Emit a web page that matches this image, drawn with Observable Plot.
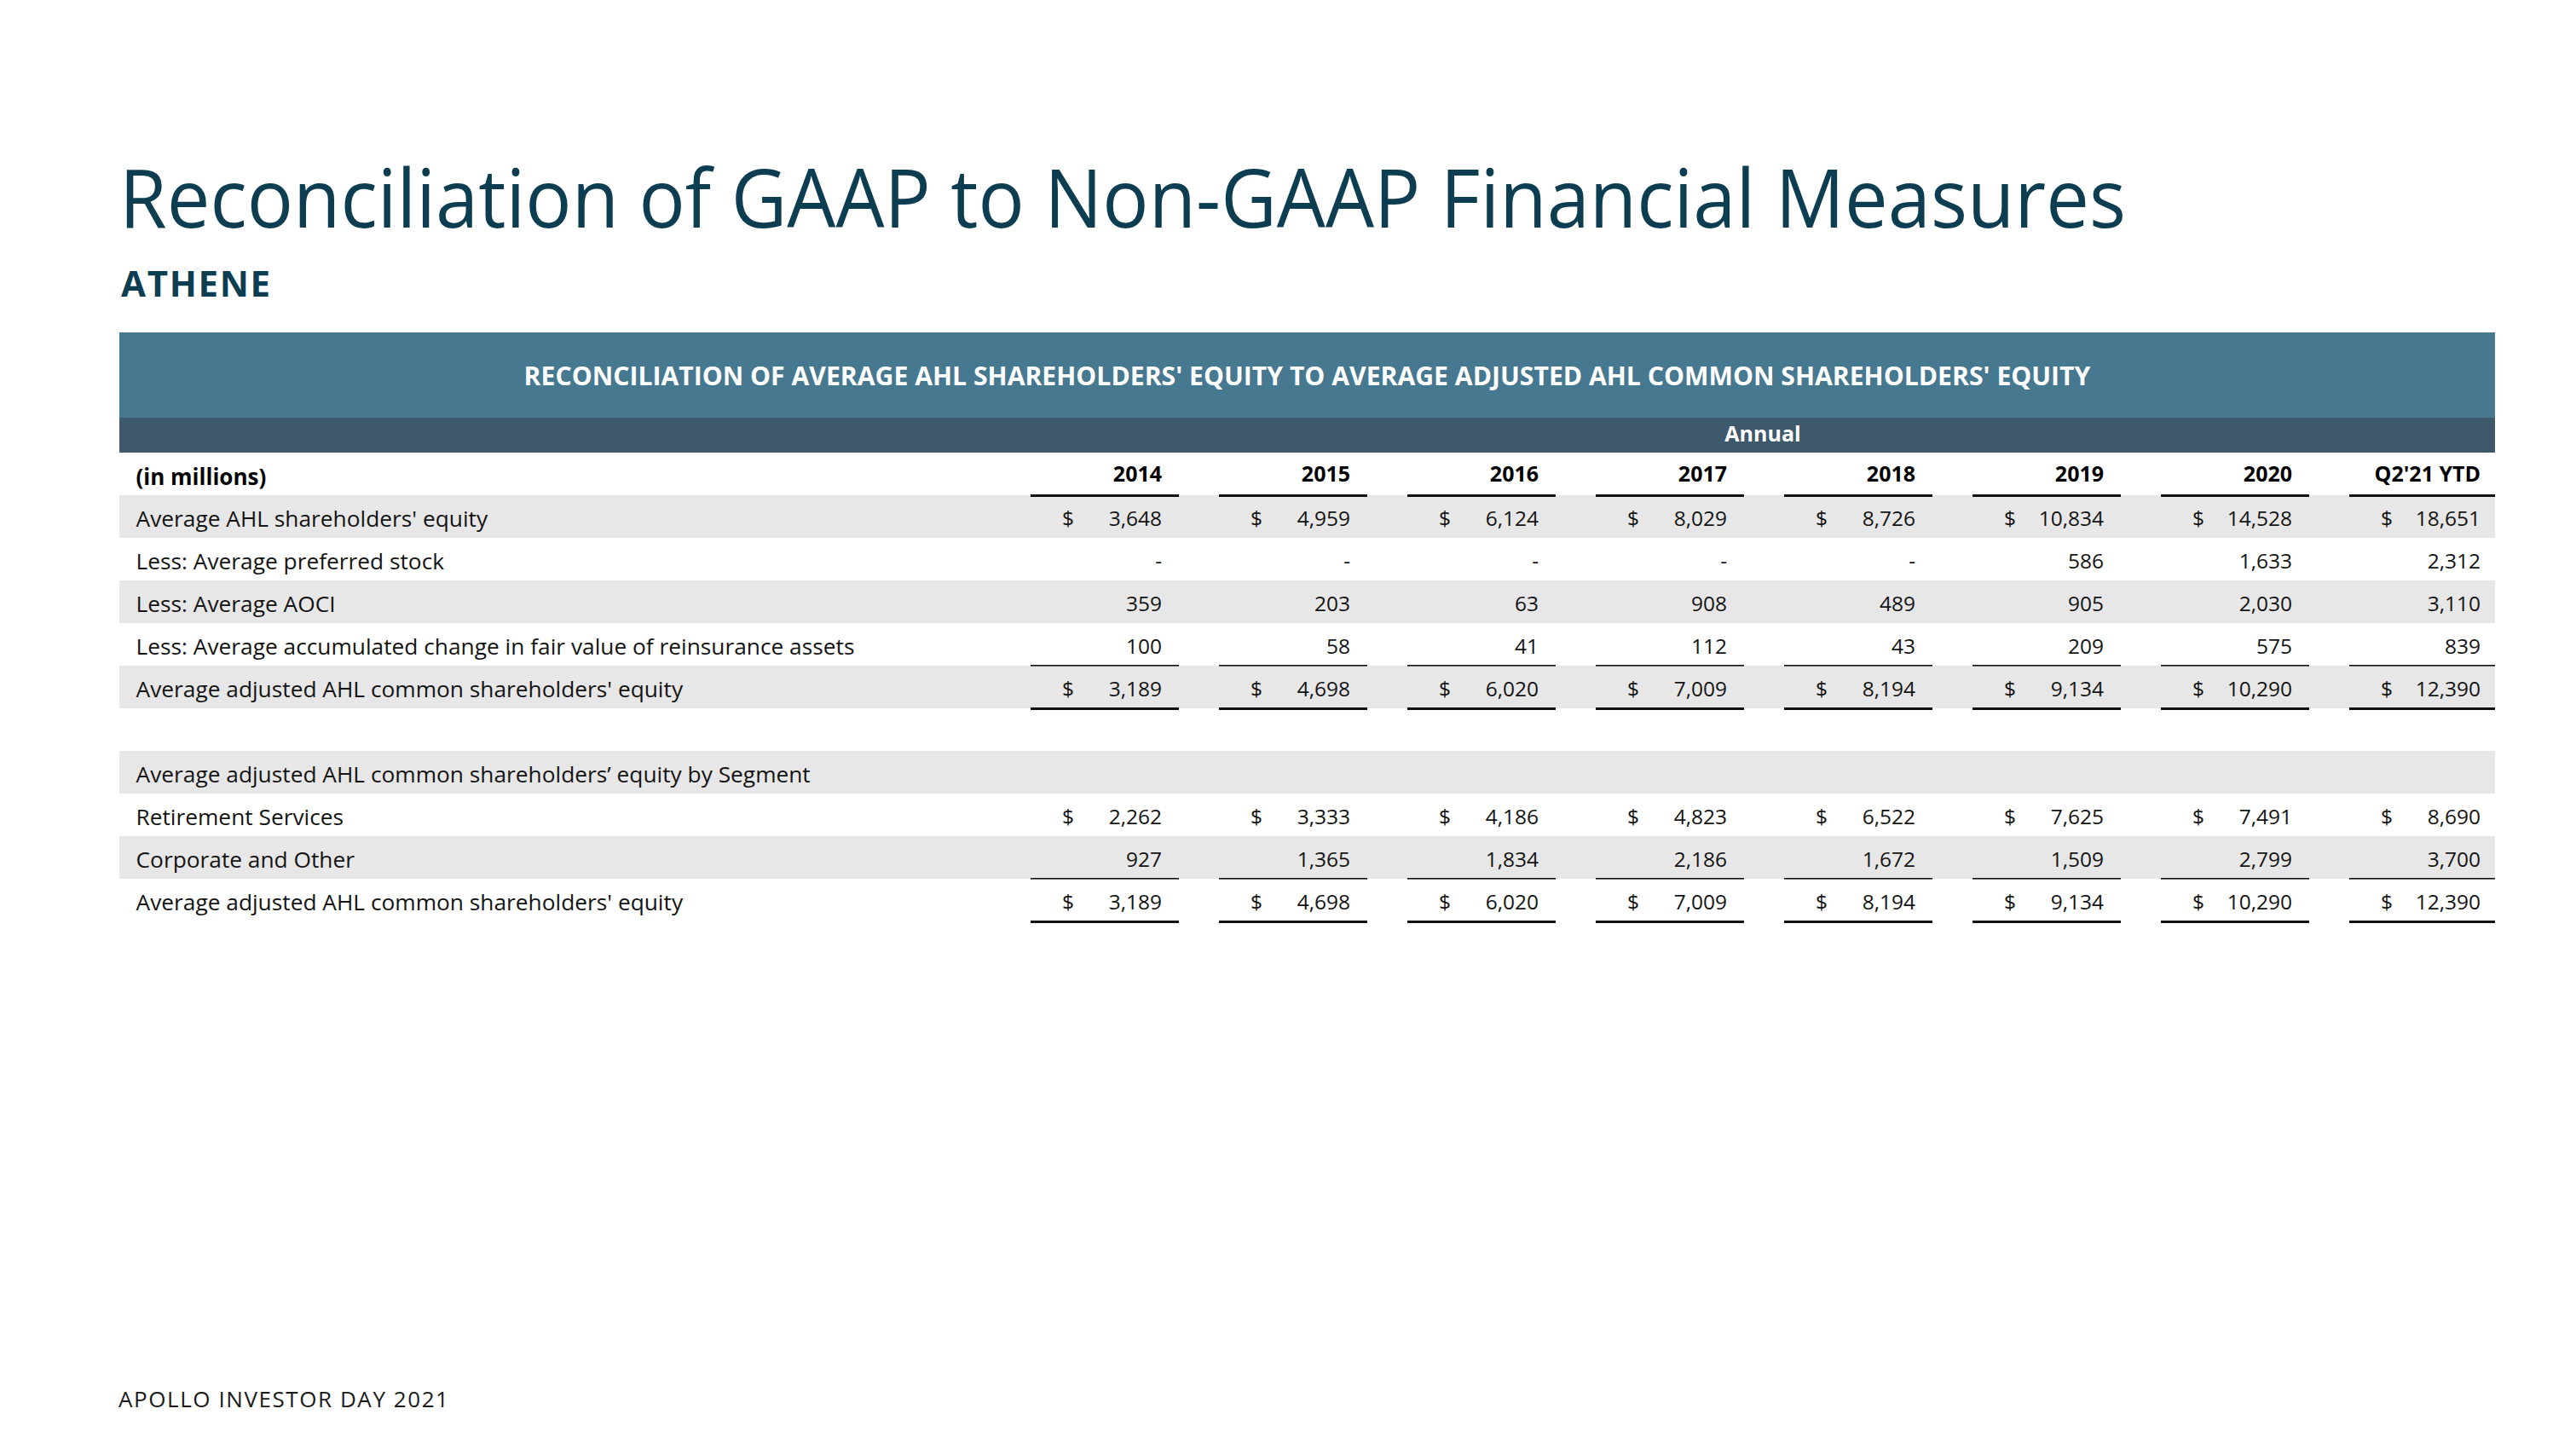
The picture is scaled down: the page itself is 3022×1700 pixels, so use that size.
<!DOCTYPE html>
<html>
<head>
<meta charset="utf-8">
<script src="https://cdn.jsdelivr.net/npm/d3@7"></script>
<script src="https://cdn.jsdelivr.net/npm/@observablehq/plot@0.6"></script>
<style>
  html, body { margin: 0; padding: 0; background: #ffffff; }
  #page { position: relative; width: 3022px; height: 1700px; overflow: hidden; font-family: "Open Sans", "Noto Sans", sans-serif; }
  #title { position: absolute; left: 140px; top: 182px; font-size: 96px; line-height: 1; color: #0c3d50; white-space: nowrap; transform-origin: 0 0; font-weight: 400; }
  #subtitle { position: absolute; left: 142px; top: 311px; font-size: 42px; line-height: 1; font-weight: 700; color: #0c3d50; white-space: nowrap; }
  #band1 { position: absolute; left: 140px; top: 390px; width: 2787px; height: 100px; background: #46788f; display: flex; align-items: center; justify-content: center; }
  #band1text { color: #ffffff; font-weight: 700; font-size: 30px; white-space: nowrap; }
  #band2 { position: absolute; left: 140px; top: 490px; width: 2787px; height: 41px; background: #3e596c; }
  #annual { position: absolute; top: 6px; color: #ffffff; font-weight: 700; font-size: 25px; line-height: 1; white-space: nowrap; transform: translateX(-50%); }
  #chart { position: absolute; left: 0; top: 531px; }
  #footer { position: absolute; left: 139px; top: 1628px; font-size: 26px; line-height: 1; color: #1a1a1a; white-space: nowrap; }
</style>
</head>
<body>
<div id="page">
  <div id="title">Reconciliation of GAAP to Non-GAAP Financial Measures</div>
  <div id="subtitle">ATHENE</div>
  <div id="band1"><span id="band1text">RECONCILIATION OF AVERAGE AHL SHAREHOLDERS' EQUITY TO AVERAGE ADJUSTED AHL COMMON SHAREHOLDERS' EQUITY</span></div>
  <div id="band2"><span id="annual">Annual</span></div>
  <div id="chart"></div>
  <div id="footer">APOLLO INVESTOR DAY 2021</div>
</div>
<script>
// ---------- data ----------
const years = ["2014", "2015", "2016", "2017", "2018", "2019", "2020", "Q2'21 YTD"];
const rowLabels = [
  "Average AHL shareholders' equity",
  "Less: Average preferred stock",
  "Less: Average AOCI",
  "Less: Average accumulated change in fair value of reinsurance assets",
  "Average adjusted AHL common shareholders' equity",
  "",
  "Average adjusted AHL common shareholders’ equity by Segment",
  "Retirement Services",
  "Corporate and Other",
  "Average adjusted AHL common shareholders' equity"
];
const avgShareholdersEquity = [3648, 4959, 6124, 8029, 8726, 10834, 14528, 18651];
const avgPreferredStock     = [null, null, null, null, null, 586, 1633, 2312];
const avgAOCI               = [359, 203, 63, 908, 489, 905, 2030, 3110];
const avgReinsuranceChange  = [100, 58, 41, 112, 43, 209, 575, 839];
const avgAdjustedEquity     = [3189, 4698, 6020, 7009, 8194, 9134, 10290, 12390];
const retirementServices    = [2262, 3333, 4186, 4823, 6522, 7625, 7491, 8690];
const corporateAndOther     = [927, 1365, 1834, 2186, 1672, 1509, 2799, 3700];
const segmentTotal          = [3189, 4698, 6020, 7009, 8194, 9134, 10290, 12390];
const rowSeries = [avgShareholdersEquity, avgPreferredStock, avgAOCI, avgReinsuranceChange,
                   avgAdjustedEquity, null, null, retirementServices, corporateAndOther, segmentTotal];
const dollarRows = [0, 4, 7, 9];          // rows shown with a $ sign
const shadedRows = [0, 2, 4, 6, 8];       // rows with grey background
const thickRuleAfter = ["head", "r4", "r9"];
const thinRuleAfter = ["r3", "r8"];

// ---------- table built from the arrays ----------
const rowKeys = ["head", ...rowLabels.map((_, i) => "r" + i)];
const rows = rowLabels.map((label, i) => ({key: "r" + i, label}));
const cells = [];
rowSeries.forEach((series, i) => {
  if (!series) return;
  series.forEach((v, j) => cells.push({row: "r" + i, col: years[j], value: v, dollar: dollarRows.includes(i)}));
});
const fmt = d3.format(",");
const cross = (keys) => keys.flatMap(r => years.map(c => ({row: r, col: c})));

// ---------- layout helpers ----------
const W = 3022, H = 560;
const mLeft = 140, mRight = 95;
const xRange = [1209, 2937];
const padInner = 0.211;
const bw = d3.scaleBand().domain(years).range(xRange).paddingInner(padInner).paddingOuter(0).bandwidth();
const FONT = "'Open Sans', 'Noto Sans', sans-serif";
const ink = "#141414";

const chart = Plot.plot({
  width: W,
  height: H,
  marginLeft: mLeft,
  marginRight: mRight,
  marginTop: 0,
  marginBottom: 0,
  x: {type: "band", domain: years, range: xRange, paddingInner: padInner, paddingOuter: 0, align: 0, axis: null},
  y: {type: "band", domain: rowKeys, range: [0, 550], paddingInner: 0, paddingOuter: 0, axis: null},
  style: {fontFamily: FONT, fontSize: "24px", color: ink, background: "transparent", overflow: "visible"},
  marks: [
    // zebra shading
    Plot.cell(shadedRows.map(i => "r" + i), {y: d => d, fill: "#e7e7e7"}),
    // underlines
    Plot.cell(cross(thickRuleAfter), {x: "col", y: "row", fill: "#111111", insetTop: 49, insetBottom: -2, clip: true}),
    Plot.cell(cross(thinRuleAfter), {x: "col", y: "row", fill: "#111111", insetTop: 49, insetBottom: -0.6, clip: true}),
    // header row
    Plot.text(["(in millions)"], {y: () => "head", text: d => d, frameAnchor: "left", textAnchor: "start", dx: 19, dy: 4,
      fontWeight: 700, fontSize: 26, fill: "#000"}),
    Plot.text(years, {x: d => d, y: () => "head", text: d => d, textAnchor: "end", dx: bw / 2 - 21, dy: 0,
      fontWeight: 700, fontSize: 25, fill: "#000"}),
    // row labels
    Plot.text(rows, {y: "key", text: "label", frameAnchor: "left", textAnchor: "start", dx: 19, dy: 3, fontSize: 26.3, fill: ink}),
    // dollar signs
    Plot.text(cells.filter(d => d.dollar), {x: "col", y: "row", text: () => "$", textAnchor: "start", dx: -bw / 2 + 37, dy: 3, fontSize: 24.5, fill: ink}),
    // values
    Plot.text(cells, {x: "col", y: "row", text: d => d.value == null ? "-" : fmt(d.value), textAnchor: "end", dx: bw / 2 - 21, dy: 3, fontSize: 24.5, fill: ink})
  ]
});
document.getElementById("chart").appendChild(chart);

// ---------- fit headline texts ----------
const ctx = document.createElement("canvas").getContext("2d");
function measure(text, font) { ctx.font = font; return ctx.measureText(text).width; }

const titleEl = document.getElementById("title");
const tw = measure(titleEl.textContent, `400 96px ${FONT}`);
titleEl.style.transform = `scaleX(${Math.min(1.1, 2354 / tw)})`;

const b1 = document.getElementById("band1text");
const bwid = measure(b1.textContent, `700 30px ${FONT}`);
b1.style.fontSize = (30 * 1838 / bwid).toFixed(2) + "px";

const sub = document.getElementById("subtitle");
const sw = measure(sub.textContent, `700 42px ${FONT}`);
sub.style.letterSpacing = ((175 - sw) / 5).toFixed(2) + "px";

const foot = document.getElementById("footer");
const fw = measure(foot.textContent, `400 26px ${FONT}`);
foot.style.letterSpacing = ((387 - fw) / 23).toFixed(2) + "px";

// "Annual" centred over the year columns
const xs = chart.scale("x");
const annualCenter = (xs.apply(years[0]) + (W - mRight)) / 2 - 140;
document.getElementById("annual").style.left = annualCenter + "px";
</script>
</body>
</html>
